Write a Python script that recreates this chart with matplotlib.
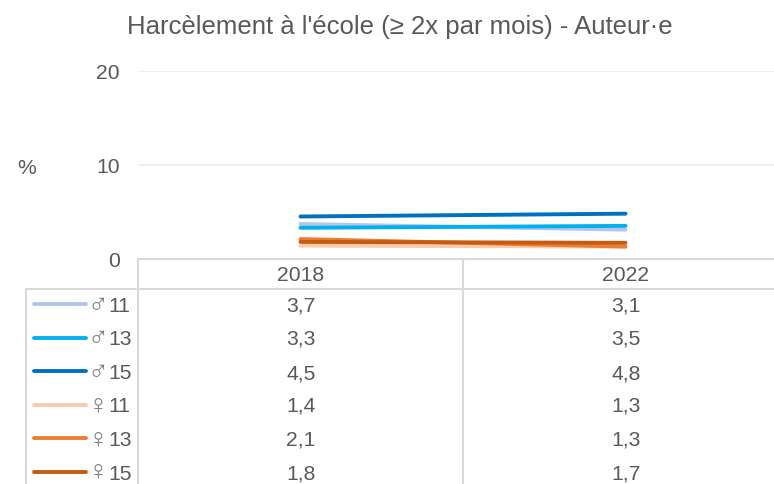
import matplotlib
matplotlib.use('Agg')
import matplotlib.pyplot as plt

plt.rcParams['font.family'] = ['Liberation Sans', 'DejaVu Sans']

years = ['2018', '2022']
symbols = ['♂', '♂', '♂', '♀', '♀', '♀']
ages = ['11', '13', '15', '11', '13', '15']
values = [[3.7, 3.1], [3.3, 3.5], [4.5, 4.8], [1.4, 1.3], [2.1, 1.3], [1.8, 1.7]]
value_labels = [['3,7', '3,1'], ['3,3', '3,5'], ['4,5', '4,8'], ['1,4', '1,3'], ['2,1', '1,3'], ['1,8', '1,7']]
colors = ['#B4C7E7', '#00B0F0', '#0070C0', '#F8CBAD', '#ED7D31', '#C55A11']
yticks = [0, 10, 20]

W, H = 774, 485
grey = '#595959'
line = '#D9D9D9'

fig = plt.figure(figsize=(W / 100, H / 100), dpi=100)
# axes runs past the right edge so both category bands are 325 px wide
ax = fig.add_axes([138 / W, 1 - 259.8 / H, 650 / W, 188 / H])
ax.set_xlim(-0.5, 1.5)
ax.set_ylim(0, 20)
ax.set_yticks(yticks)
ax.set_xticks([])
ax.tick_params(axis='y', length=0, labelsize=15.2, labelcolor=grey, pad=13)
ax.grid(axis='y', color='#F0F0F0', lw=1.4)
ax.set_axisbelow(True)
for s in ax.spines.values():
    s.set_visible(False)
for v, c in zip(values, colors):
    ax.plot([0, 1], v, color=c, lw=2.8, solid_capstyle='round')

fig.text(400 / W, 1 - 27 / H, "Harcèlement à l'école (≥ 2x par mois) - Auteur·e",
         ha='center', va='center', fontsize=18.5, color=grey)
fig.text(27 / W, 1 - 168 / H, '%', ha='center', va='center', fontsize=15.2, color=grey)

# table below the plot
def hline(y, x0=25.7, x1=W):
    fig.add_artist(plt.Line2D([x0 / W, x1 / W], [1 - y / H, 1 - y / H], color=line, lw=1.5))
def vline(x, y0, y1=H):
    fig.add_artist(plt.Line2D([x / W, x / W], [1 - y0 / H, 1 - y1 / H], color=line, lw=1.5))

hline(259.8, 138)
hline(289.5)
vline(138, 259.8)
vline(463.5, 259.8)
vline(26, 289.5)

col_x = [301, 626]
for x, year in zip(col_x, years):
    fig.text(x / W, 1 - 275.5 / H, year, ha='center', va='center', fontsize=15.2, color=grey)
row_y = [306.5, 339.5, 373.5, 406.5, 440.5, 474.5]
legend_y = [305, 338.5, 372, 405.5, 439, 472.5]
symbol_y = [313, 346, 380, 413, 447, 479]
for y, ly, sy, sym, age, vals, c in zip(row_y, legend_y, symbol_y, symbols, ages, value_labels, colors):
    fig.add_artist(plt.Line2D([34 / W, 86 / W], [1 - ly / H, 1 - ly / H], color=c, lw=2.8,
                              solid_capstyle='round'))
    fig.text(98 / W, 1 - sy / H, sym, ha='center', va='baseline', fontsize=20, color='#7F7F7F')
    fig.text(108 / W, 1 - y / H, age, ha='left', va='center', fontsize=15.2, color=grey)
    for x, t in zip(col_x, vals):
        fig.text(x / W, 1 - y / H, t, ha='center', va='center', fontsize=15.2, color=grey)

fig.savefig('out.png', dpi=100)
